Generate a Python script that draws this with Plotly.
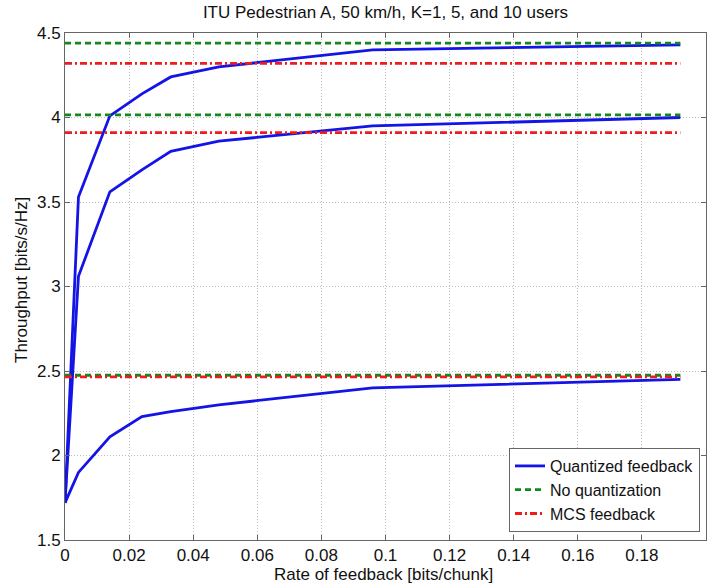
import plotly.graph_objects as go

# Data
rate = [0, 0.0042, 0.014, 0.024, 0.033, 0.048, 0.096, 0.192]
thr_k10 = [1.72, 3.53, 4.01, 4.14, 4.24, 4.30, 4.40, 4.43]
thr_k5 = [1.72, 3.06, 3.56, 3.69, 3.80, 3.86, 3.95, 4.00]
thr_k1 = [1.72, 1.90, 2.11, 2.23, 2.26, 2.30, 2.40, 2.45]

ref_x = [0, 0.192]
no_quant = [4.44, 4.015, 2.475]
mcs_fb = [4.32, 3.91, 2.465]

x_ticks = [0, 0.02, 0.04, 0.06, 0.08, 0.1, 0.12, 0.14, 0.16, 0.18, 0.2]
x_tick_text = ["0", "0.02", "0.04", "0.06", "0.08", "0.1", "0.12", "0.14", "0.16", "0.18", "0.2"]
y_ticks = [1.5, 2, 2.5, 3, 3.5, 4, 4.5]
y_tick_text = ["1.5", "2", "2.5", "3", "3.5", "4", "4.5"]

FONT = "Arial, Liberation Sans, Helvetica, sans-serif"
BLUE = "#1414e6"
GREEN = "#12891a"
RED = "#ee1c1c"

W, H = 717, 584
ML, MR, MT, MB = 65, 11, 33, 44
PW, PH = W - ML - MR, H - MT - MB

fig = go.Figure()

for i, ys in enumerate([thr_k10, thr_k5, thr_k1]):
    fig.add_trace(go.Scatter(
        x=rate, y=ys, mode="lines",
        line=dict(color=BLUE, width=2.8),
        name="Quantized feedback", legendgroup="q",
        showlegend=(i == 0)))

for i, v in enumerate(no_quant):
    fig.add_trace(go.Scatter(
        x=ref_x, y=[v, v], mode="lines",
        line=dict(color=GREEN, width=2.8, dash="6px,4px"),
        name="No quantization", legendgroup="nq",
        showlegend=(i == 0)))

for i, v in enumerate(mcs_fb):
    fig.add_trace(go.Scatter(
        x=ref_x, y=[v, v], mode="lines",
        line=dict(color=RED, width=2.8, dash="7px,3px,2px,3px"),
        name="MCS feedback", legendgroup="mcs",
        showlegend=(i == 0)))

axis_common = dict(
    showline=True, linecolor="#666666", linewidth=1, mirror="allticks",
    ticks="inside", ticklen=5, tickcolor="#666666",
    showgrid=True, gridcolor="#bdbdbd", gridwidth=1, griddash="1px,2px",
    zeroline=False, automargin=False,
    tickfont=dict(family=FONT, size=17, color="#111111"),
)

fig.update_layout(
    width=W, height=H,
    margin=dict(l=ML, r=MR, t=MT, b=MB),
    paper_bgcolor="white", plot_bgcolor="white",
    font=dict(family=FONT, color="#111111"),
    title=dict(text="ITU Pedestrian A, 50 km/h, K=1, 5, and 10 users",
               x=(ML + PW / 2) / W, xanchor="center",
               y=1 - 12 / H, yanchor="middle",
               font=dict(family=FONT, size=17, color="#111111")),
    xaxis=dict(range=[0, 0.2], tickvals=x_ticks, ticktext=x_tick_text,
               **axis_common),
    yaxis=dict(range=[1.5, 4.5], tickvals=y_ticks, ticktext=y_tick_text,
               **axis_common),
    legend=dict(x=(700 - ML) / PW, xanchor="right",
                y=(H - MB - 532) / PH, yanchor="bottom",
                bgcolor="white", bordercolor="#666666", borderwidth=1,
                font=dict(family=FONT, size=16, color="#111111"),
                tracegroupgap=0, itemwidth=30),
    showlegend=True,
    annotations=[
        dict(text="Rate of feedback [bits/chunk]", xref="paper", yref="paper",
             x=(383 - ML) / PW, y=-(574 - (H - MB)) / PH, xanchor="center",
             yanchor="middle", showarrow=False,
             font=dict(family=FONT, size=17, color="#111111")),
        dict(text="Throughput [bits/s/Hz]", xref="paper", yref="paper",
             x=-(ML - 21) / PW, y=(H - MB - 280) / PH,
             xanchor="center", yanchor="middle", textangle=-90, showarrow=False,
             font=dict(family=FONT, size=17, color="#111111")),
    ],
)

fig.write_html("out.html",
               config={"displayModeBar": False},
               post_script="document.body.style.margin='0';document.body.style.overflow='hidden';")
